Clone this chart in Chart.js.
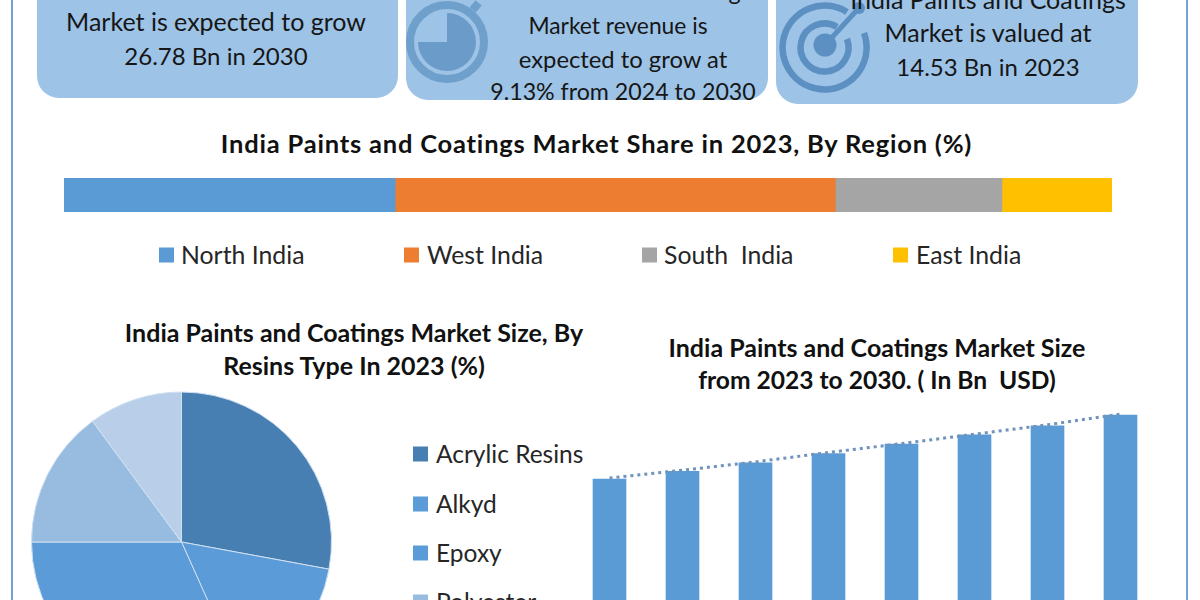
<!DOCTYPE html>
<html>
<head>
<meta charset="utf-8">
<script src="https://cdn.jsdelivr.net/npm/chart.js@4"></script>
<style>
  html, body { margin: 0; width: 1200px; height: 600px; overflow: hidden; background: #fff; }
  body { position: relative; font-family: Lato, "Open Sans", sans-serif; color: #161616; }
  .frame { position: absolute; top: 0; width: 2px; height: 600px; background: #74a3d1; }
  .card { position: absolute; top: -60px; background: #9dc3e6; border-radius: 22px; }
  .txt { position: absolute; transform: translate(-50%, -50%); white-space: pre; font-size: 25px; line-height: 30px; }
  .txt.small { font-size: 23.4px; }
  .txt.num { font-size: 24px; }
  .ttl { position: absolute; transform: translate(-50%, -50%); white-space: pre; font-size: 25px; line-height: 30px; font-weight: 700; color: #111; }
  .ttl.wide { font-size: 25.5px; letter-spacing: 0.8px; }
  .leg { position: absolute; transform: translateY(-50%); white-space: pre; font-size: 24.8px; line-height: 30px; color: #262626; }
  #resinLegend .leg { font-size: 24.5px; }
  .sw { position: absolute; width: 15px; height: 15px; transform: translateY(-50%); }
  canvas { display: block; }
  .box { position: absolute; }
  svg { position: absolute; left: 0; top: 0; }
</style>
</head>
<body>
<div class="frame" style="left:11px"></div>
<div class="frame" style="left:1186px"></div>

<div class="card" style="left:37px;width:361px;height:158px"></div>
<div class="card" style="left:406px;width:362px;height:160px"></div>
<div class="card" style="left:776px;width:362px;height:164px"></div>

<svg width="1200" height="120">
  <!-- stopwatch -->
  <circle cx="447" cy="42" r="37" fill="none" stroke="#6f9fcb" stroke-width="8"/>
  <path d="M447 42 L447 13 A29 29 0 1 1 418 42 Z" fill="#6b9bc9"/>
  <rect x="472" y="2" width="8" height="9" fill="#6f9fcb" transform="rotate(40 476 6)"/>
  <!-- target -->
  <g fill="none" stroke="#5c90c2">
    <path d="M847 12 A42 42 0 1 0 864 33" stroke-width="6.5"/>
    <path d="M837 27 A24 24 0 1 0 847 39" stroke-width="6.5"/>
    <path d="M825 45 L858 9" stroke-width="5"/>
  </g>
  <circle cx="825" cy="45" r="11.5" fill="#5c90c2"/>
  <circle cx="859" cy="8" r="6" fill="#5c90c2"/>
</svg>

<div class="txt" style="left:216px;top:21px">Market is expected to grow</div>
<div class="txt num" style="left:216px;top:56px">26.78 Bn in 2030</div>

<div class="txt small" style="left:622px;top:-9px">India Paints and Coatings</div>
<div class="txt small" style="left:618px;top:25px;font-size:22.8px">Market revenue is</div>
<div class="txt small" style="left:623px;top:59px;font-size:23.8px">expected to grow at</div>
<div class="txt small" style="left:623px;top:91px;font-size:23.2px">9.13% from 2024 to 2030</div>

<div class="txt" style="left:988px;top:-1px">India Paints and Coatings</div>
<div class="txt" style="left:988px;top:32px">Market is valued at</div>
<div class="txt num" style="left:988px;top:67px">14.53 Bn in 2023</div>

<div class="ttl wide" style="left:596.5px;top:143px">India Paints and Coatings Market Share in 2023, By Region (%)</div>
<div class="box" style="left:64px;top:178px;width:1048px;height:34px"><canvas id="regionChart"></canvas></div>
<div id="regionLegend">
  <div class="sw" style="left:159px;top:255px"></div><div class="leg" style="left:181px;top:255px"></div>
  <div class="sw" style="left:404px;top:255px"></div><div class="leg" style="left:427px;top:255px"></div>
  <div class="sw" style="left:642px;top:255px"></div><div class="leg" style="left:664px;top:255px"></div>
  <div class="sw" style="left:893px;top:255px"></div><div class="leg" style="left:916px;top:255px"></div>
</div>

<div class="ttl" style="left:354px;top:332px">India Paints and Coatings Market Size, By</div>
<div class="ttl" style="left:354px;top:365px">Resins Type In 2023 (%)</div>
<div class="box" style="left:31px;top:391px;width:301px;height:302px"><canvas id="resinChart"></canvas></div>
<div id="resinLegend">
  <div class="sw" style="left:413px;top:454px"></div><div class="leg" style="left:436px;top:454px"></div>
  <div class="sw" style="left:413px;top:504px"></div><div class="leg" style="left:436px;top:504px"></div>
  <div class="sw" style="left:413px;top:553px"></div><div class="leg" style="left:436px;top:553px"></div>
  <div class="sw" style="left:413px;top:602px"></div><div class="leg" style="left:436px;top:602px"></div>
</div>

<div class="ttl" style="left:877px;top:347px">India Paints and Coatings Market Size</div>
<div class="ttl" style="left:877px;top:380px;font-size:24.6px">from 2023 to 2030. ( In Bn  USD)</div>
<div class="box" style="left:572.5px;top:400px;width:584px;height:200px"><canvas id="sizeChart"></canvas></div>

<script>
// region share bar
const regions = ["North India", "West India", "South  India", "East India"];
const regionShare = [31.6, 42, 15.9, 10.5];
const regionColors = ["#5b9bd5", "#ed7d31", "#a5a5a5", "#ffc000"];

// resin pie
const resins = ["Acrylic Resins", "Alkyd", "Epoxy", "Polyester", "Others"];
const resinShare = [27.9, 15.4, 31.7, 14.9, 10.1];
const resinColors = ["#477fb3", "#5b9bd7", "#5b9bd7", "#98bbe0", "#b9cfe9"];

const years = ["2023", "2024", "2025", "2026", "2027", "2028", "2029", "2030"];
const marketSize = [14.53, 15.97, 17.6, 19.4, 21.2, 22.96, 24.7, 26.78];
const trendLine = [14.7, 16.2, 17.8, 19.6, 21.3, 23.1, 24.9, 26.95];

function fillLegend(id, labels, colors) {
    const el = document.getElementById(id);
    el.querySelectorAll(".sw").forEach((s, i) => { s.style.background = colors[i]; });
    el.querySelectorAll(".leg").forEach((l, i) => { l.textContent = labels[i]; });
}
fillLegend("regionLegend", regions, regionColors);
fillLegend("resinLegend", resins, resinColors);

const baseOpts = {
    responsive: true,
    maintainAspectRatio: false,
    animation: false,
    layout: { padding: 0 },
    plugins: { legend: { display: false }, tooltip: { enabled: false } }
};

new Chart(document.getElementById("regionChart"), {
    type: "bar",
    data: {
        labels: ["Share"],
        datasets: regions.map((r, i) => ({
            label: r,
            data: [regionShare[i]],
            backgroundColor: regionColors[i],
            barPercentage: 1,
            categoryPercentage: 1
        }))
    },
    options: {
        ...baseOpts,
        indexAxis: "y",
        scales: {
            x: { stacked: true, display: false, min: 0, max: 100 },
            y: { stacked: true, display: false }
        }
    }
});

new Chart(document.getElementById("resinChart"), {
    type: "pie",
    data: {
        labels: resins,
        datasets: [{
            data: resinShare,
            backgroundColor: resinColors,
            borderColor: "#cfe0f2",
            borderWidth: 1,
            hoverOffset: 0
        }]
    },
    options: baseOpts
});

// the bars run off the bottom of the picture, so the value axis starts below zero
const axisMin = -8.65;
const axisMax = 29.65;

new Chart(document.getElementById("sizeChart"), {
    type: "bar",
    data: {
        labels: years,
        datasets: [
            {
                type: "line",
                label: "Trend",
                data: trendLine,
                borderColor: "#6f93bb",
                borderWidth: 3,
                borderDash: [3, 4],
                pointRadius: 0,
                tension: 0,
                fill: false
            },
            {
                label: "Market size",
                data: marketSize,
                base: axisMin,
                backgroundColor: "#5b9bd5",
                barThickness: 33
            }
        ]
    },
    options: {
        ...baseOpts,
        scales: {
            x: { display: false },
            y: { display: false, min: axisMin, max: axisMax }
        }
    }
});
</script>
</body>
</html>
